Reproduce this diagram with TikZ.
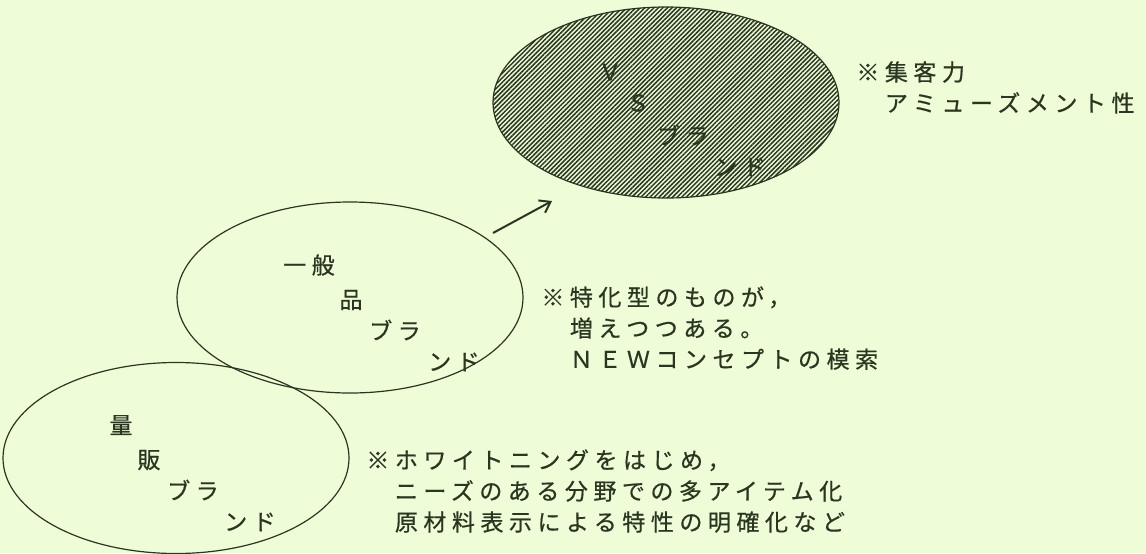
\documentclass[tikz,border=0pt]{standalone}
\usepackage{fontspec}
\usepackage{xcolor}
\usepackage{tikz}
\usetikzlibrary{positioning,shapes.geometric,patterns.meta,arrows.meta}
\newfontfamily\jpfont[LetterSpace=24,FakeBold=0.6]{Noto Sans CJK JP}
\definecolor{PaperGreen}{RGB}{238,252,216}
\definecolor{InkOlive}{RGB}{42,54,32}
\tikzset{
    brandnode/.style={ellipse, draw=InkOlive, line width=0.6pt, minimum width=173pt, minimum height=95.5pt, inner sep=0pt},
    wordnode/.style={text=InkOlive, inner sep=0pt, font=\jpfont\fontsize{11.5pt}{15.5pt}\selectfont},
    notenode/.style={wordnode, align=left, anchor=north west}
}

\begin{document}
\begin{tikzpicture}[
        x=0.5pt, y=-0.5pt,
        % Elip gach cheo cho nhom VS
        hatchnode/.style={
            brandnode,
            pattern={Lines[angle=45, distance=1.6pt, line width=0.75pt]},
            pattern color=InkOlive
        },
        movearrow/.style={draw=InkOlive, line width=1pt, -{Straight Barb[length=5pt, width=7pt]}}
    ]
        % --- NEN ---
        \fill[PaperGreen] (0,0) rectangle (1146,553);
        \useasboundingbox (0,0) rectangle (1146,553);

        % --- BA ELIP ---
        \node[hatchnode] (vsBrand) at (666,102.5) {};
        \node[brandnode] (generalBrand) at (350,297.5) {};
        \node[brandnode] (massBrand) at (176,458) {};

        % Mui ten: tu elip giua len elip VS
        \coordinate (arrowTail) at (493,233);
        \coordinate (arrowHead) at (552,201);
        \draw[movearrow] (arrowTail) -- (arrowHead);

        % --- CHU TRONG ELIP ---
        % VS
        \node[wordnode] (vsV) at (610,72) {Ｖ};
        \node[wordnode] (vsS) at (638,103) {Ｓ};
        \node[wordnode] (vsBura) at (683,135) {ブラ};
        \node[wordnode] (vsNdo) at (740,167) {ンド};
        % Nhom chung
        \node[wordnode] (generalIppan) at (309,265) {一般};
        \node[wordnode] (generalHin) at (351,300) {品};
        \node[wordnode] (generalBura) at (395,330) {ブラ};
        \node[wordnode] (generalNdo) at (454,362) {ンド};
        % Luong ban
        \node[wordnode] (massRyo) at (121,425) {量};
        \node[wordnode] (massHan) at (149,460) {販};
        \node[wordnode] (massBura) at (193,490) {ブラ};
        \node[wordnode] (massNdo) at (250,522) {ンド};

        % --- GHI CHU ---
        \node[notenode] (vsNote) at (856,61) {※集客力\\　アミューズメント性};
        \node[notenode] (generalNote) at (541,286) {※特化型のものが，\\　増えつつある。\\　ＮＥＷコンセプトの模索};
        \node[notenode] (massNote) at (366,449) {※ホワイトニングをはじめ，\\　ニーズのある分野での多アイテム化\\　原材料表示による特性の明確化など};

    \end{tikzpicture}
\end{document}
